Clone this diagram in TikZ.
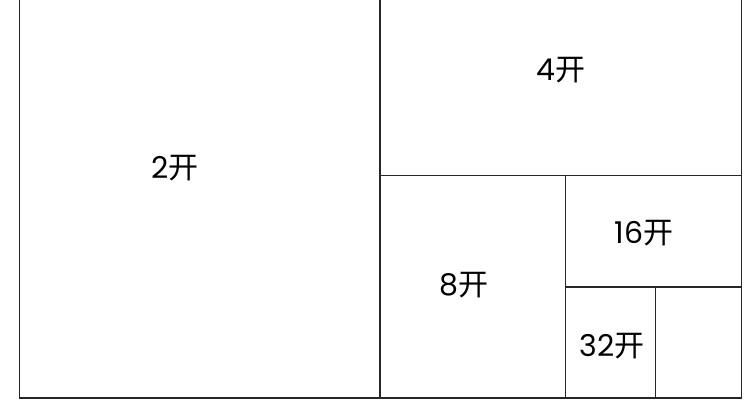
\documentclass[tikz,border=0pt]{standalone}
\usepackage{fontspec}
\setmainfont{Poppins}
\newfontfamily\cjk{Noto Sans CJK SC}
\begin{document}
\begin{tikzpicture}[x=1pt,y=-1pt,
  edge/.style={line width=1.9pt,draw=black!85},
  lbl/.style={inner sep=0pt,font=\fontsize{30}{30}\selectfont}]
\useasboundingbox (0,0) rectangle (750,400);
\fill[white] (0,0) rectangle (750,400);
% outer frame (top edge lies beyond the picture)
\draw[edge] (19.5,-2) -- (19.5,398) -- (741.5,398) -- (741.5,-2);
% divisions
\draw[edge] (380,-2) -- (380,398);
\draw[edge] (380,175.5) -- (741.5,175.5);
\draw[edge] (565.5,175.5) -- (565.5,398);
\draw[edge] (565.5,287) -- (741.5,287);
\draw[edge] (655.5,287) -- (655.5,398);
% labels
\node[lbl] (k2) at (175,168) {2{\cjk 开}};
\node[lbl] (k4) at (561,70) {4{\cjk 开}};
\node[lbl] (k8) at (464,285) {8{\cjk 开}};
\node[lbl] (k16) at (644,233) {16{\cjk 开}};
\node[lbl] (k32) at (612,346) {32{\cjk 开}};
\end{tikzpicture}
\end{document}
